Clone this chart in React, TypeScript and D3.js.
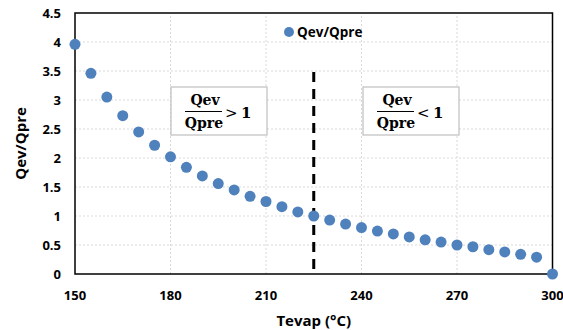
import React from "react";
import * as d3 from "d3";

const temps = [150,155,160,165,170,175,180,185,190,195,200,205,210,215,220,225,230,235,240,245,250,255,260,265,270,275,280,285,290,295,300];
const ratio = [3.96,3.46,3.05,2.73,2.45,2.22,2.02,1.84,1.69,1.56,1.45,1.34,1.25,1.16,1.07,1.0,0.93,0.86,0.8,0.74,0.69,0.64,0.59,0.55,0.5,0.47,0.42,0.38,0.34,0.29,0];
const xTicks = [150,180,210,240,270,300];
const yTicks = [0,0.5,1,1.5,2,2.5,3,3.5,4,4.5];
const yTickLabels = ["0","0.5","1","1.5","2","2.5","3","3.5","4","4.5"];
const splitTemp = 225;
const seriesName = "Qev/Qpre";

const W = 563, H = 330;
const m = { left: 75, right: 10, top: 13, bottom: 56 };
const blue = "#4F81BD";
const sans = "'Open Sans', 'Liberation Sans', sans-serif";
const serif = "'DejaVu Serif', 'Liberation Serif', serif";

export default function App() {
  const x = d3.scaleLinear().domain([150, 300]).range([m.left, W - m.right - 0.5]);
  const y = d3.scaleLinear().domain([0, 4.5]).range([H - m.bottom, m.top]);
  const x0 = x(150), x1 = x(300), y0 = y(0), y1 = y(4.5);

  const box = (bx: number, sign: string) => {
    const cx = bx + 32;
    return (
      <g>
        <rect x={bx} y={87} width={96} height={48} fill="white" stroke="#bfbfbf" strokeWidth={1.2} />
        <text x={cx + 2} y={105} textAnchor="middle" fontFamily={serif} fontWeight="bold" fontSize={14}>Qev</text>
        <line x1={cx - 18} x2={cx + 19} y1={111.5} y2={111.5} stroke="black" strokeWidth={1.2} />
        <text x={cx + 1} y={128} textAnchor="middle" fontFamily={serif} fontWeight="bold" fontSize={14}>Qpre</text>
        <text x={cx + 22} y={118} fontFamily={serif} fontSize={15}>{sign}</text>
        <text x={cx + 38} y={118} fontFamily={serif} fontWeight="bold" fontSize={15}>1</text>
      </g>
    );
  };

  return (
    <svg width={W} height={H} style={{ position: "absolute", left: 0, top: 0 }}>
      <rect width={W} height={H} fill="white" />
      {/* grid */}
      {yTicks.slice(1, -1).map((t) => (
        <line key={"gy" + t} x1={x0} x2={x1} y1={y(t)} y2={y(t)} stroke="#d9d9d9" strokeDasharray="2,2" />
      ))}
      {xTicks.slice(1, -1).map((t) => (
        <line key={"gx" + t} x1={x(t)} x2={x(t)} y1={y0} y2={y1} stroke="#d9d9d9" strokeDasharray="2,2" />
      ))}
      {/* frame */}
      <rect x={x0} y={y1} width={x1 - x0} height={y0 - y1} fill="none" stroke="black" strokeWidth={1.5} />
      {/* tick labels */}
      {yTicks.map((t, i) => (
        <text key={"yl" + t} x={61} y={y(t) + 4.5} textAnchor="end" fontFamily={sans} fontWeight="bold" fontSize={13}>{yTickLabels[i]}</text>
      ))}
      {xTicks.map((t) => (
        <text key={"xl" + t} x={x(t)} y={300} textAnchor="middle" fontFamily={sans} fontWeight="bold" fontSize={13}>{t}</text>
      ))}
      {/* axis titles */}
      <text x={(x0 + x1) / 2} y={326} textAnchor="middle" fontFamily={sans} fontWeight="bold" fontSize={15}>Tevap (°C)</text>
      <text transform={`translate(26,${(y0 + y1) / 2}) rotate(-90)`} textAnchor="middle" fontFamily={sans} fontWeight="bold" fontSize={15}>Qev/Qpre</text>
      {/* split line */}
      <line x1={x(splitTemp)} x2={x(splitTemp)} y1={72} y2={y0} stroke="black" strokeWidth={3} strokeDasharray="10,7" />
      {/* annotation boxes */}
      {box(171, ">")}
      {box(363, "<")}
      {/* points */}
      {temps.map((t, i) => (
        <circle key={t} cx={x(t)} cy={y(ratio[i])} r={5.5} fill={blue} />
      ))}
      {/* legend */}
      <circle cx={289} cy={32} r={5} fill={blue} />
      <text x={297} y={36.5} fontFamily={sans} fontWeight="bold" fontSize={13.5}>{seriesName}</text>
    </svg>
  );
}
